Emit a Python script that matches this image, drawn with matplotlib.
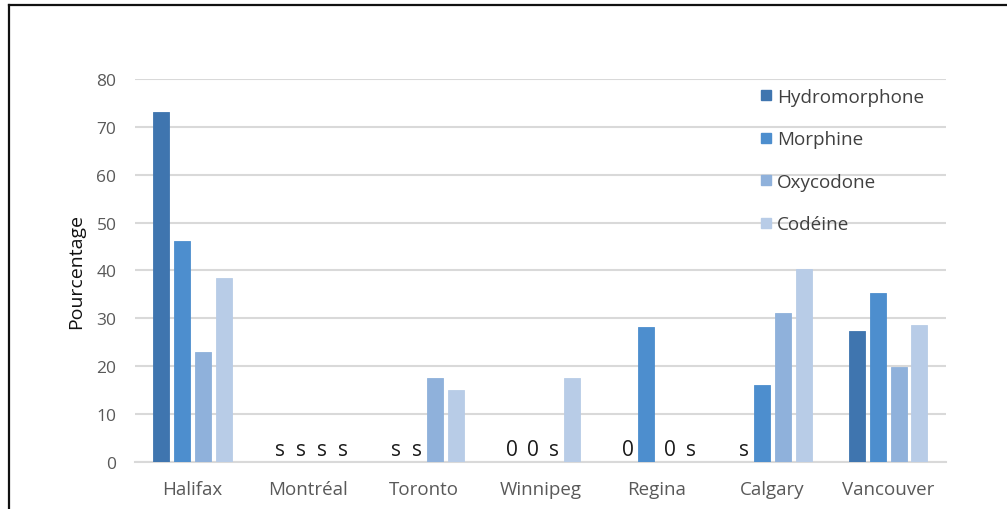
import matplotlib
matplotlib.use("Agg")
import matplotlib.pyplot as plt
from matplotlib.lines import Line2D
import numpy as np

plt.rcParams['font.family'] = ['Open Sans', 'DejaVu Sans']

cities = ["Halifax", "Montréal", "Toronto", "Winnipeg", "Regina", "Calgary", "Vancouver"]
series = ["Hydromorphone", "Morphine", "Oxycodone", "Codéine"]
hydromorphone = [73.1, 0, 0, 0, 0, 0, 27.4]
morphine = [46.2, 0, 0, 0, 28.2, 16.1, 35.2]
oxycodone = [23.0, 0, 17.5, 0, 0, 31.2, 19.8]
codeine = [38.4, 0, 15.0, 17.5, 0, 40.3, 28.6]
# labels for zero-height bars ("s" = suppressed, "0" = zero)
hydromorphone_lbl = ["", "s", "s", "0", "0", "s", ""]
morphine_lbl = ["", "s", "s", "0", "", "", ""]
oxycodone_lbl = ["", "s", "", "s", "0", "", ""]
codeine_lbl = ["", "s", "", "", "s", "", ""]
yticks = [0, 10, 20, 30, 40, 50, 60, 70, 80]

colors = ["#3F75AF", "#4D8ECE", "#8FB1DB", "#B8CCE7"]
values = [hydromorphone, morphine, oxycodone, codeine]
labels = [hydromorphone_lbl, morphine_lbl, oxycodone_lbl, codeine_lbl]

fig = plt.figure(figsize=(10.07, 5.10), dpi=100)
ax = fig.add_axes([0.1336, 0.0922, 0.8058, 0.7510])

x = np.arange(len(cities))
w = 0.138
step = 0.181
handles = []
for i, (vals, lbls, c, name) in enumerate(zip(values, labels, colors, series)):
    xs = x + (i - 1.5) * step
    ax.bar(xs, vals, width=w, color=c, edgecolor=c, linewidth=0.6, zorder=3)
    for xi, lb in zip(xs, lbls):
        if lb:
            ax.text(xi + 0.03, 0.5, lb, ha="center", va="bottom", fontsize=15,
                    color="#1A1A1A", zorder=4)
    handles.append(Line2D([], [], marker="s", linestyle="none", markersize=7,
                          markerfacecolor=c, markeredgecolor=c, label=name))

ax.set_xlim(-0.5, len(cities) - 0.5)
ax.set_ylim(0, 80)
ax.set_yticks(yticks)
ax.set_xticks(x)
ax.set_xticklabels(cities, fontsize=13.5, color="#595959")
ax.tick_params(axis="y", labelsize=12.5, labelcolor="#595959", length=0, pad=13)
ax.tick_params(axis="x", length=0, pad=13)
ax.grid(axis="y", color="#D9D9D9", linewidth=1.5, zorder=0)
for s in ["top", "right", "left"]:
    ax.spines[s].set_visible(False)
ax.spines["bottom"].set_color("#D9D9D9")
ax.spines["bottom"].set_linewidth(1.5)
ax.set_ylabel("Pourcentage", fontsize=14, color="#111111", labelpad=8)

leg = fig.legend(handles=handles, loc="upper left", bbox_to_anchor=(0.752, 0.826),
                 frameon=False, fontsize=13.6, labelspacing=1.3, handletextpad=0.15,
                 borderpad=0, borderaxespad=0, handlelength=0.9)
for t in leg.get_texts():
    t.set_color("#404040")

# outer frame lines
fig.add_artist(Line2D([9 / 1007, 9 / 1007], [0, 1 - 6 / 510], transform=fig.transFigure,
                      color="#111111", linewidth=1.6))
fig.add_artist(Line2D([9 / 1007, 1], [1 - 6 / 510, 1 - 6 / 510], transform=fig.transFigure,
                      color="#111111", linewidth=1.6))

fig.savefig("out.png", dpi=100)
